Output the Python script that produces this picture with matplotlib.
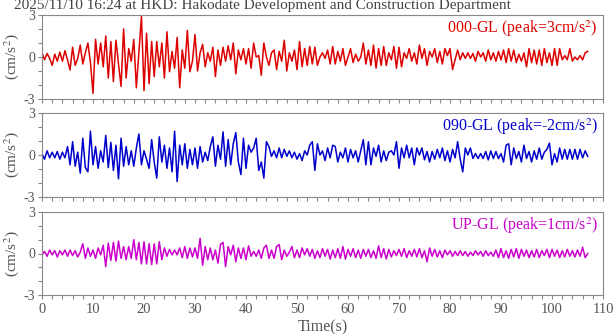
import numpy as np
import matplotlib
matplotlib.use("Agg")
import matplotlib.pyplot as plt
from matplotlib.ticker import MultipleLocator

plt.rcParams['font.family'] = ['Liberation Serif', 'DejaVu Serif']
plt.rcParams['mathtext.fontset'] = 'stix'
plt.rcParams['axes.unicode_minus'] = False

TITLE = "2025/11/10 16:24 at HKD: Hakodate Development and Construction Department"
DT = 0.5  # seconds between listed samples

# 000-GL (NS), cm/s^2, one value every DT seconds from t=0
acc_000 = [
    0.3, -0.2, 0.25, -0.1, -0.6, 0.2, -0.3, 0.35, -0.3, 0.45,
    -0.2, -0.93, 0.7, -0.6, -0.1, 0.85, -0.5, 0.3, 1.0, -0.4,
    -2.6, 1.26, -0.5, 1.0, -0.7, 1.5, -1.5, 1.1, -1.75, 1.2,
    -0.5, -2.1, 2.0, -1.5, 0.6, -0.3, 1.26, -2.2, 0.3, 2.9,
    -2.4, 1.7, -1.9, 1.1, -1.4, 1.1, -0.7, 1.0, -1.5, 1.8,
    -1.05, 0.4, -0.8, 1.4, -2.2, 0.5, -0.8, 1.9, -1.05, -0.3,
    1.6, -1.0, 0.3, 0.9, -0.7, 0.3, -0.3, 0.7, -1.4, 0.5,
    -0.6, 0.7, -0.3, 0.8, -0.2, 1.0, -1.2, 0.5, -0.2, 0.6,
    -0.5, 0.6, -0.8, 1.0, 0.0, 0.1, -1.3, 1.0, 0.0, -0.6,
    0.3, 0.5, -0.9, 0.4, -0.3, 1.2, -1.0, 0.3, -0.3, 0.5,
    -0.9, 1.1, -0.7, 0.6, -0.6, 0.75, -0.5, 0.7, -0.6, 0.0,
    0.3, -0.1, 0.5, -0.5, 0.75, -0.5, 0.4, -0.3, 0.6, -0.6,
    0.0, 0.6, -0.4, 0.2, -0.3, 0.0, 1.0, -0.5, 0.5, -0.6,
    0.85, -0.8, 0.6, -0.6, 0.75, -0.6, 0.3, -0.2, 0.75, -0.8,
    0.7, -0.7, 0.3, -0.1, 0.6, -0.3, 0.3, -0.5, 0.85, -0.1,
    0.6, -0.6, 0.4, 0.0, 0.6, -0.4, 0.4, -0.5, 0.6, 0.1,
    0.6, -0.9, -0.2, 0.5, -0.2, 0.3, -0.1, 0.3, -0.1, 0.25,
    -0.3, 0.4, 0.0, 0.3, -0.3, 0.5, -0.2, 0.3, -0.3, 0.4,
    -0.2, 0.5, -0.4, 0.6, -0.3, 0.5, -0.4, 0.2, -0.3, 0.3,
    -0.7, 0.6, -0.4, 0.5, -0.5, 0.5, -0.6, 0.6, -0.4, 0.3,
    -0.6, 0.6, -0.6, 0.6, -0.2, 0.1, -0.2, 0.6, -0.3, 0.0,
    -0.2, 0.1, -0.2, 0.3, 0.4,
]

# 090-GL (EW)
acc_090 = [
    0.1, -0.3, 0.3, -0.2, 0.2, -0.2, 0.25, -0.3, 0.2, -0.2,
    0.6, -0.7, 0.95, -0.8, 0.2, -1.3, 1.2, -0.9, -1.2, 1.7,
    -0.7, 0.6, -0.95, 0.3, -0.5, 1.4, -0.9, 0.9, -1.1, 0.7,
    -1.7, 1.2, -0.8, 0.6, -0.7, 0.3, -0.8, 0.5, 1.5, -0.7,
    0.3, -0.3, -0.95, 1.1, -0.5, -1.65, 1.3, -0.5, 0.7, -0.95,
    0.5, -1.2, 1.7, -1.9, 0.7, -0.7, 0.8, -0.95, 0.4, -0.7,
    0.5, -0.95, 0.6, -0.5, 0.2, -0.4, 0.6, 1.3, -0.8, 0.7,
    -0.3, 1.65, -0.8, 1.1, -0.7, 0.8, 1.6, -0.5, -1.4, 1.2,
    -0.95, 0.7, 0.2, 0.5, 1.2, -1.1, -0.5, -1.65, 0.95, 0.6,
    -0.1, 0.3, -0.2, 0.5, -0.2, 0.4, -0.1, 0.3, -0.2, 0.2,
    -0.3, 0.1, -0.4, 0.3, 0.0, 0.7, 0.95, -1.1, 0.8, 0.0,
    0.3, -0.4, 0.5, -0.2, 0.7, 0.6, -0.5, 0.2, -0.2, 0.5,
    -0.5, 0.4, -0.2, 0.3, -0.5, 0.3, 1.1, -0.7, 0.95, -0.7,
    0.5, -0.1, 0.7, -0.5, 0.3, -0.4, 0.2, 0.3, 0.0, 0.95,
    -0.95, 0.5, -0.2, 0.7, -0.2, 0.5, -0.7, 0.5, 0.0, 0.5,
    -0.35, 0.25, -0.5, 0.25, -0.3, 0.4, -0.2, 0.5, -0.4, 0.3,
    -0.5, 0.4, -0.2, 0.95, -0.3, -1.2, 0.5, 0.0, 0.5, -0.25,
    0.1, -0.25, 0.1, -0.25, 0.25, -0.35, 0.3, -0.25, 0.25, -0.25,
    0.1, -0.5, 0.7, 0.8, -0.7, 0.5, -0.25, 0.25, -0.5, 0.7,
    -0.25, 0.25, -0.5, 0.3, -0.3, 0.5, -0.3, 0.2, 0.4, 0.85,
    -0.7, 0.1, -0.5, 0.5, -0.3, 0.4, -0.3, 0.4, -0.3, 0.4,
    -0.3, 0.4, -0.2, 0.3, -0.1,
]

# UP-GL (vertical)
acc_up = [
    -0.1, 0.15, -0.2, 0.25, -0.1, 0.2, -0.25, 0.2, -0.1, 0.25,
    -0.2, 0.25, -0.15, 0.2, -0.25, 0.1, 0.7, -0.35, 0.4, -0.2,
    0.25, -0.35, 0.4, -0.1, 0.6, -0.95, 0.75, -0.5, 0.8, -0.55,
    0.9, -0.35, 0.5, -0.45, 0.5, -0.35, 1.0, -0.45, 0.8, -0.75,
    0.85, -0.75, 0.7, -0.8, 0.7, -0.75, 0.85, -0.45, 0.4, -0.2,
    0.3, -0.1, 0.25, -0.1, 0.4, -0.3, 0.5, -0.35, 0.4, -0.25,
    0.4, -0.35, 1.1, -0.85, 0.5, -0.45, 0.4, -0.45, 0.25, -0.7,
    0.65, 0.8, -0.95, 0.5, -0.1, 0.6, -0.6, 0.4, -0.35, 0.4,
    -0.45, 0.55, -0.2, 0.15, -0.2, 0.25, -0.35, 0.4, 0.6, -0.35,
    0.25, -0.35, 0.5, 0.65, -0.45, 0.25, -0.2, 0.1, 0.5, -0.3,
    0.25, -0.3, 0.4, -0.1, 0.35, -0.2, 0.3, -0.35, 0.2, -0.3,
    0.35, -0.2, 0.3, -0.4, 0.25, -0.3, 0.35, -0.35, 0.5, -0.4,
    0.3, -0.2, 0.35, -0.3, 0.25, -0.35, 0.3, -0.2, 0.3, -0.3,
    0.2, -0.35, 0.55, -0.3, 0.35, -0.4, 0.3, -0.25, 0.2, -0.15,
    0.3, -0.2, 0.35, -0.3, 0.2, -0.2, 0.3, -0.25, 0.35, -0.3,
    0.2, -0.6, 0.4, -0.2, 0.3, -0.25, 0.2, -0.3, 0.25, -0.1,
    0.2, -0.2, 0.15, -0.15, 0.2, -0.15, 0.15, -0.2, 0.1, -0.15,
    0.2, -0.1, 0.15, -0.2, 0.2, -0.15, 0.1, -0.2, 0.25, -0.3,
    0.35, -0.3, 0.2, -0.35, 0.3, -0.25, 0.35, -0.35, 0.3, -0.2,
    0.25, -0.3, 0.2, -0.25, 0.3, -0.3, 0.2, -0.15, 0.3, -0.3,
    0.3, -0.2, 0.25, -0.3, 0.2, -0.25, 0.3, -0.2, 0.2, -0.25,
    0.25, -0.2, 0.45, -0.3, 0.0,
]

components = [
    (acc_000, '#dd0000', '000-GL (peak=3cm/s$^2$)'),
    (acc_090, '#0000cc', '090-GL (peak=-2cm/s$^2$)'),
    (acc_up, '#cc00cc', 'UP-GL (peak=1cm/s$^2$)'),
]

GRAY = '#888888'
TXT = '#555555'

fig = plt.figure(figsize=(6.16, 3.34), dpi=100)
left, width = 42 / 616, (603 - 42) / 616
tops = [15, 113, 212]
bottoms = [99, 197, 295]

for i, (vals, color, label) in enumerate(components):
    y0 = 1 - bottoms[i] / 334
    h = (bottoms[i] - tops[i]) / 334
    ax = fig.add_axes([left, y0, width, h])
    t = np.arange(len(vals)) * DT
    ax.plot(t, vals, color=color, lw=1.1)
    ax.set_xlim(0, 110)
    ax.set_ylim(-3, 3)
    ax.set_yticks([-3, 0, 3])
    ax.yaxis.set_minor_locator(MultipleLocator(1))
    ax.xaxis.set_major_locator(MultipleLocator(10))
    ax.xaxis.set_minor_locator(MultipleLocator(2))
    ax.tick_params(which='both', direction='out', length=3, width=0.8,
                   color=GRAY, labelcolor=TXT, labelsize=10, pad=2)
    ax.tick_params(axis='x', labelsize=10.5, pad=3)
    for s in ax.spines.values():
        s.set_color(GRAY)
        s.set_linewidth(0.8)
    ax.set_ylabel('(cm/s$^2$)', color=TXT, fontsize=11, labelpad=2)
    ax.text(0.991, 0.965, label, transform=ax.transAxes, ha='right', va='top',
            color=color, fontsize=11.5)
    if i < 2:
        ax.tick_params(labelbottom=False)
    else:
        ax.set_xlabel('Time(s)', color=TXT, fontsize=11.5, labelpad=2)

fig.text(14 / 616, 1 - 9 / 334, TITLE, ha='left', va='baseline',
         color='#444444', fontsize=11)

fig.savefig('out.png', dpi=100)
